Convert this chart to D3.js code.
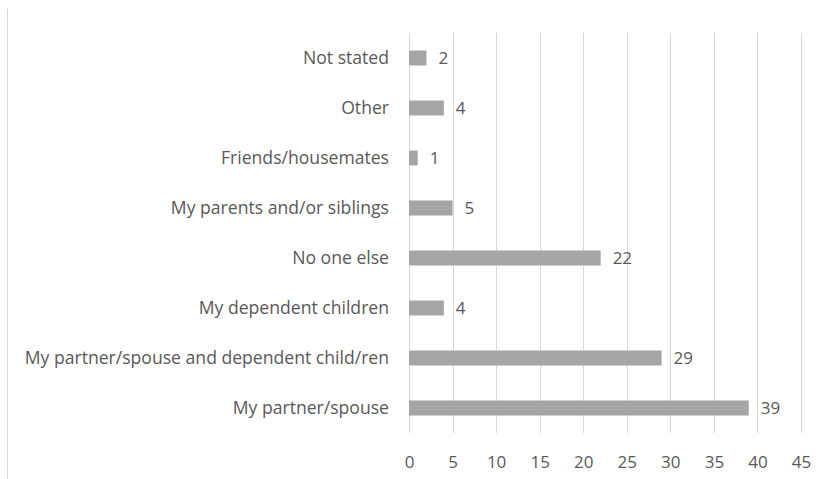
<!DOCTYPE html>
<html>
<head>
<meta charset="utf-8">
<script src="https://cdn.jsdelivr.net/npm/d3@7"></script>
<style>
  html, body { margin: 0; padding: 0; background: #fff; }
  svg { display: block; }
  text { font-family: "Open Sans", "Noto Sans", sans-serif; fill: #595959; }
</style>
</head>
<body>
<svg id="chart" width="824" height="479"></svg>
<script>
// Household composition, top to bottom as listed
const categories = [
  "Not stated",
  "Other",
  "Friends/housemates",
  "My parents and/or siblings",
  "No one else",
  "My dependent children",
  "My partner/spouse and dependent child/ren",
  "My partner/spouse"
];
const counts = [2, 4, 1, 5, 22, 4, 29, 39];
const xTicks = [0, 5, 10, 15, 20, 25, 30, 35, 40, 45];

const svg = d3.select("#chart");
const margin = { top: 33, right: 23, bottom: 46, left: 409 };
const W = 824, H = 479;
const innerH = H - margin.top - margin.bottom;

// outer frame edge on the left
svg.append("line")
  .attr("x1", 7.5).attr("x2", 7.5)
  .attr("y1", 9).attr("y2", H)
  .attr("stroke", "#d9d9d9").attr("stroke-width", 1);

const g = svg.append("g").attr("transform", `translate(${margin.left},${margin.top})`);

const x = d3.scaleLinear().domain([0, 45]).range([0, 392]);
const y = d3.scaleBand().domain(categories).range([0, innerH]).paddingInner(0.7).paddingOuter(0.35);

// vertical gridlines
g.selectAll("line.grid").data(xTicks).join("line")
  .attr("class", "grid")
  .attr("x1", d => Math.round(x(d)) + 0.5).attr("x2", d => Math.round(x(d)) + 0.5)
  .attr("y1", 0).attr("y2", innerH)
  .attr("stroke", "#d9d9d9").attr("stroke-width", 1);

// bars
g.selectAll("rect.bar").data(categories).join("rect")
  .attr("class", "bar")
  .attr("x", x(0))
  .attr("y", d => y(d))
  .attr("width", (d, i) => x(counts[i]) - x(0))
  .attr("height", y.bandwidth())
  .attr("fill", "#a5a5a5");

// value labels
g.selectAll("text.val").data(categories).join("text")
  .attr("class", "val")
  .attr("x", (d, i) => x(counts[i]) + 12)
  .attr("y", d => y(d) + y.bandwidth() / 2)
  .attr("dy", "0.36em")
  .style("font-size", "17px")
  .text((d, i) => counts[i]);

// category axis labels
g.selectAll("text.cat").data(categories).join("text")
  .attr("class", "cat")
  .attr("x", -20)
  .attr("y", d => y(d) + y.bandwidth() / 2)
  .attr("dy", "0.36em")
  .attr("text-anchor", "end")
  .style("font-size", "17.6px")
  .text(d => d);

// x axis tick labels
const xAxis = d3.axisBottom(x).tickValues(xTicks).tickSize(0).tickPadding(0);
const ax = g.append("g").attr("transform", `translate(0,${innerH + 29})`).call(xAxis);
ax.select(".domain").remove();
ax.selectAll("text")
  .attr("dy", "0.36em")
  .style("font-family", "'Open Sans', 'Noto Sans', sans-serif")
  .style("font-size", "17px")
  .attr("fill", "#595959");
</script>
</body>
</html>
